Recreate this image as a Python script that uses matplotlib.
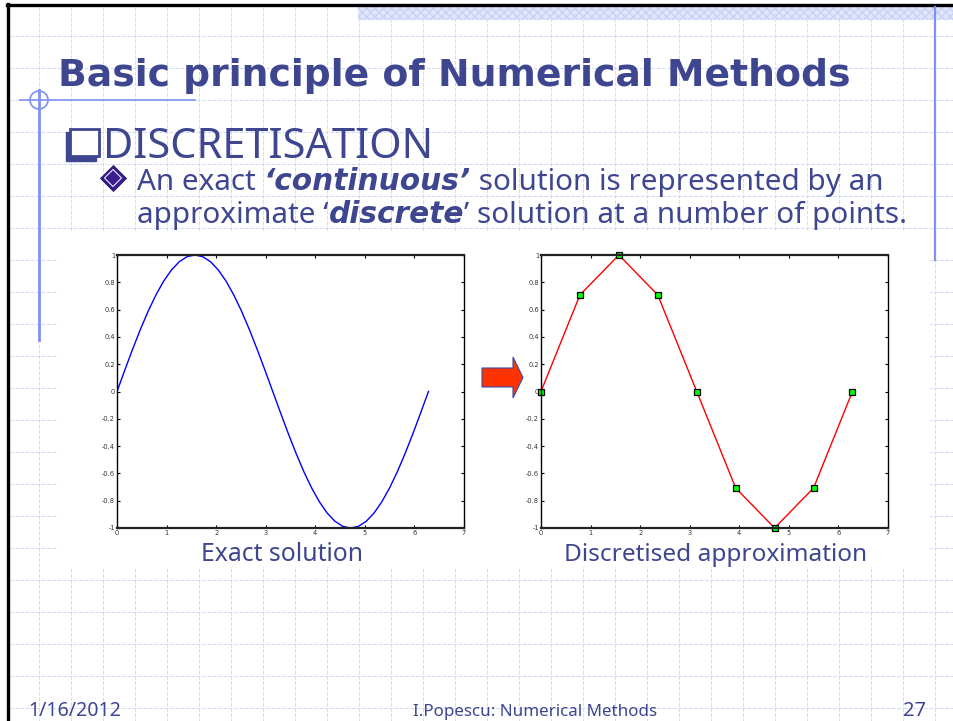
import matplotlib
matplotlib.use('Agg')
import matplotlib.pyplot as plt
from matplotlib.patches import Rectangle, Polygon, Circle
import numpy as np

# ---------------- data ----------------
x_exact = [0.000, 0.157, 0.314, 0.471, 0.628, 0.785, 0.942, 1.100, 1.257, 1.414,
           1.571, 1.728, 1.885, 2.042, 2.199, 2.356, 2.513, 2.670, 2.827, 2.985,
           3.142, 3.299, 3.456, 3.613, 3.770, 3.927, 4.084, 4.241, 4.398, 4.555,
           4.712, 4.869, 5.027, 5.184, 5.341, 5.498, 5.655, 5.812, 5.969, 6.126, 6.283]
y_exact = [0.000, 0.156, 0.309, 0.454, 0.588, 0.707, 0.809, 0.891, 0.951, 0.988,
           1.000, 0.988, 0.951, 0.891, 0.809, 0.707, 0.588, 0.454, 0.309, 0.156,
           0.000, -0.156, -0.309, -0.454, -0.588, -0.707, -0.809, -0.891, -0.951, -0.988,
           -1.000, -0.988, -0.951, -0.891, -0.809, -0.707, -0.588, -0.454, -0.309, -0.156, 0.000]
x_disc = [0.000, 0.785, 1.571, 2.356, 3.142, 3.927, 4.712, 5.498, 6.283]
y_disc = [0.000, 0.707, 1.000, 0.707, 0.000, -0.707, -1.000, -0.707, 0.000]
x_ticks = [0, 1, 2, 3, 4, 5, 6, 7]
x_tick_labels = ['0', '1', '2', '3', '4', '5', '6', '7']
y_ticks = [-1, -0.8, -0.6, -0.4, -0.2, 0, 0.2, 0.4, 0.6, 0.8, 1]
y_tick_labels = ['-1', '-0.8', '-0.6', '-0.4', '-0.2', '0', '0.2', '0.4', '0.6', '0.8', '1']

title = 'Basic principle of Numerical Methods'
heading = 'DISCRETISATION'
line1 = [('An exact ', 'n'), ('‘continuous’', 'bi'), (' solution is represented by an', 'n')]
line2 = [('approximate ‘', 'n'), ('discrete', 'bi'), ('’ solution at a number of points.', 'n')]
caption_left = 'Exact solution'
caption_right = 'Discretised approximation'
footer_date = '1/16/2012'
footer_author = 'I.Popescu: Numerical Methods'
footer_page = '27'

# ---------------- figure ----------------
W, H = 954, 721
fig = plt.figure(figsize=(9.54, 7.21), dpi=100)
ax0 = fig.add_axes([0, 0, 1, 1], zorder=0)
ax0.set_xlim(0, W)
ax0.set_ylim(H, 0)
ax0.axis('off')
renderer = fig.canvas.get_renderer()

TXT = '#3F4690'
GRID = '#D3DAF7'
DECO = '#7F91F2'
BODY_FONT = ['Noto Sans', 'DejaVu Sans']
BI_FONT = ['DejaVu Sans']

# background grid
for gx in np.arange(39, W, 32):
    ax0.plot([gx, gx], [7, H], color=GRID, lw=0.7, ls=(0, (4, 1.5)), zorder=1)
for gy in np.arange(35.5, H, 32):
    ax0.plot([9, W], [gy, gy], color=GRID, lw=0.7, ls=(0, (4, 1.5)), zorder=1)

# top band
ax0.add_patch(Rectangle((358, 7), W - 358, 13, facecolor='#E0E6FB', edgecolor='#C9D2F6',
                        hatch='xxxx', lw=0, zorder=1.5))
# black frame
ax0.plot([8, 8], [4, H], color='black', lw=2.4, zorder=3)
ax0.plot([7, W], [5, 5], color='black', lw=2.4, zorder=3)
# blue decorations
ax0.plot([20, 195], [100, 100], color=DECO, lw=1.2, zorder=3)
ax0.plot([39, 39], [90, 340], color=DECO, lw=2.0, zorder=3)
ax0.add_patch(Circle((39, 100), 9, fill=False, edgecolor=DECO, lw=1.2, zorder=3))
ax0.plot([935, 935], [7, 260], color=DECO, lw=1.6, zorder=3)

# white picture area
ax0.add_patch(Rectangle((58, 232), 872, 335, facecolor='white', edgecolor='none', zorder=2))


def width_of(s, **kw):
    t1 = ax0.text(0, 0, s + '|', **kw)
    t2 = ax0.text(0, 0, '|', **kw)
    w = t1.get_window_extent(renderer).width - t2.get_window_extent(renderer).width
    t1.remove()
    t2.remove()
    return w


def style_kw(st, size):
    if st == 'bi':
        return dict(fontsize=size, family=BI_FONT, fontweight='bold', fontstyle='italic')
    return dict(fontsize=size, family=BODY_FONT)


def fit_text(s, x, y, target_w, family, weight='normal', ha='left', **extra):
    base = 20.0
    w = width_of(s, fontsize=base, family=family, fontweight=weight)
    size = base * target_w / w
    return ax0.text(x, y, s, fontsize=size, family=family, fontweight=weight,
                    ha=ha, va='baseline', zorder=4, **extra)


def fit_runs(runs, x, y, target_w, color):
    base = 20.0
    total = sum(width_of(s, **style_kw(st, base)) for s, st in runs)
    size = base * target_w / total
    for s, st in runs:
        kw = style_kw(st, size)
        ax0.text(x, y, s, va='baseline', ha='left', color=color, zorder=4, **kw)
        x += width_of(s, **kw)


# title
fit_text(title, 58, 86, 794, ['DejaVu Sans'], weight='bold', color=TXT)
# heading box symbol
ax0.add_patch(Rectangle((66, 132), 30, 29, facecolor=TXT, edgecolor=TXT, lw=1, zorder=4))
ax0.add_patch(Rectangle((70, 129), 29, 27, facecolor='white', edgecolor=TXT, lw=2, zorder=4))
fit_text(heading, 103, 158.5, 330, BODY_FONT, color=TXT)
# diamond bullet
ax0.scatter([113], [178], marker='D', s=170, color='#3A1F8C', edgecolors='#2A1570',
            linewidths=0.8, zorder=4)
ax0.scatter([113], [178], marker='D', s=75, facecolors='none', edgecolors='white',
            linewidths=0.7, zorder=5)
fit_runs(line1, 137, 190, 745, TXT)
fit_runs(line2, 137, 223, 770, TXT)

# captions
fit_text(caption_left, 201, 561, 162, BODY_FONT, color=TXT)
fit_text(caption_right, 564, 561, 302, BODY_FONT, color=TXT)

# footer
fit_text(footer_date, 28, 716, 93, BODY_FONT, color=TXT)
fit_text(footer_author, 413, 716, 244, BODY_FONT, color=TXT)
fit_text(footer_page, 903, 716, 23, BODY_FONT, color=TXT)

# red arrow
ax0.add_patch(Polygon([(482, 368), (513, 368), (513, 357), (523, 377.5), (513, 398),
                       (513, 387), (482, 387)], closed=True, facecolor='#FF3300',
                      edgecolor='#3A4AA8', lw=0.8, zorder=4))


def setup_axes(rect):
    ax = fig.add_axes(rect, zorder=5)
    ax.set_facecolor('white')
    ax.set_xlim(0, 7)
    ax.set_ylim(-1, 1)
    ax.set_xticks(x_ticks)
    ax.set_xticklabels(x_tick_labels)
    ax.set_yticks(y_ticks)
    ax.set_yticklabels(y_tick_labels)
    ax.tick_params(direction='in', length=2.5, width=0.8, labelsize=4.8,
                   labelcolor='#333333', top=True, right=True, pad=1.5)
    for side in ['top', 'bottom']:
        ax.spines[side].set_linewidth(1.6)
        ax.spines[side].set_color('#222222')
    for side in ['left', 'right']:
        ax.spines[side].set_linewidth(1.0)
        ax.spines[side].set_color('black')
    return ax


axL = setup_axes([117 / W, 1 - 528 / H, 347 / W, 273 / H])
axL.plot(x_exact, y_exact, color='#0000FF', lw=1.0)

axR = setup_axes([541 / W, 1 - 528 / H, 347 / W, 273 / H])
axR.plot(x_disc, y_disc, color='#FF0000', lw=1.0, marker='s', markersize=4.5,
         markerfacecolor='#00FF00', markeredgecolor='black', markeredgewidth=0.9,
         clip_on=False)

fig.savefig('out.png', dpi=100)
